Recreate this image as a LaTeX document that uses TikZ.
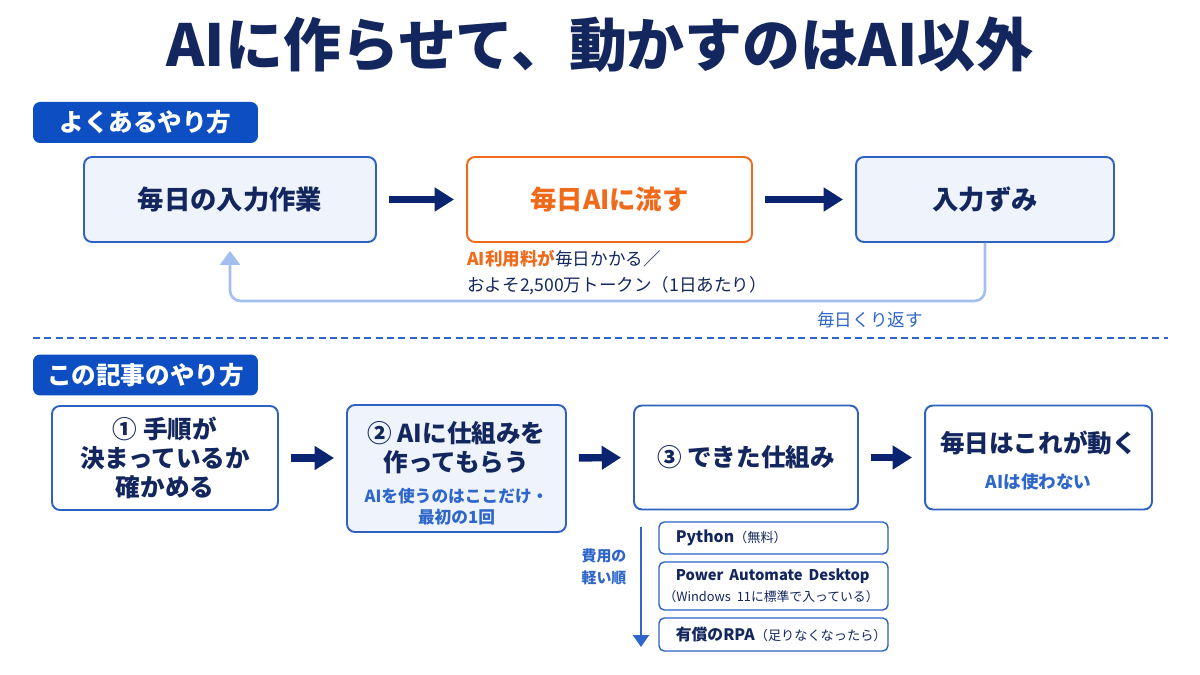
\documentclass[tikz,border=0pt]{standalone}
\usepackage{fontspec}
\setmainfont{Noto Sans CJK JP}
\usetikzlibrary{arrows.meta,positioning}
\definecolor{navy}{HTML}{13275E}
\definecolor{arrownavy}{HTML}{0B2472}
\definecolor{tagblue}{HTML}{0D4FC2}
\definecolor{boxline}{HTML}{2E62C2}
\definecolor{boxfill}{HTML}{EEF3FC}
\definecolor{orng}{HTML}{F06A1C}
\definecolor{loopblue}{HTML}{A3BFEE}
\definecolor{midblue}{HTML}{2F66CA}

\begin{document}
\begin{tikzpicture}[x=0.02cm,y=-0.02cm,
    flow box/.style={draw=boxline,line width=1.1pt,rounded corners=4.5pt,fill=boxfill,
      text=navy,font=\fontsize{15}{18}\selectfont\bfseries,minimum height=1.7cm},
    step box/.style={draw=boxline,line width=1.1pt,rounded corners=4.5pt,fill=white,
      minimum width=4.5cm,minimum height=2.08cm},
    main text/.style={text=navy,align=center,font=\fontsize{14}{16.5}\selectfont\bfseries},
    note text/.style={text=midblue,align=center,font=\fontsize{9.5}{12}\selectfont\bfseries},
    tag node/.style={fill=tagblue,rounded corners=4pt,text=white,minimum width=4.5cm,
      minimum height=0.82cm,font=\fontsize{14}{16}\selectfont\bfseries},
    tool box/.style={draw=boxline,line width=0.8pt,rounded corners=3pt,fill=white,text=navy,
      text width=4.4cm,inner xsep=0.09cm,align=left},
    big arrow/.style={-{Triangle[length=11pt,width=13pt]},draw=arrownavy,line width=4.2pt,
      shorten >=0.24cm,shorten <=0.24cm}]

  \fill[white] (0,0) rectangle (1200,675);

  % title
  \node[text=navy,font=\fontsize{33}{36}\selectfont\bfseries] (title) at (600,45)
    {AIに作らせて、動かすのはAI以外};

  % よくあるやり方
  \node[tag node] (tag1) at (145.5,122.5) {よくあるやり方};
  \node[flow box,minimum width=5.84cm] (in) at (230,199.5) {毎日の入力作業};
  \node[flow box,minimum width=5.7cm,fill=white,draw=orng,text=orng] (ai) at (609.5,199.5) {毎日AIに流す};
  \node[flow box,minimum width=5.16cm] (done) at (985,199.5) {入力ずみ};

  \node[anchor=north west,align=left,text=navy,inner sep=0pt,
        font=\fontsize{10}{14.5}\selectfont] (cost) at (467,250)
    {{\color{orng}\bfseries AI利用料が}毎日かかる／\\およそ2,500万トークン（1日あたり）};

  \draw[big arrow] (in) -- (ai);
  \draw[big arrow] (ai) -- (done);

  \draw[loopblue,line width=1.5pt,rounded corners=6pt,
        -{Triangle[length=0.28cm,width=0.4cm]},shorten >=0.16cm]
    (done.south) -- (done.south |- 0,301) -- (in.south |- 0,301) -- (in.south);
  \node[text=midblue,font=\fontsize{10}{12}\selectfont] (again) at (870,320) {毎日くり返す};

  \draw[midblue,line width=1pt,dash pattern=on 4pt off 2.5pt] (33,338) -- (1168,338);

  % この記事のやり方
  \node[tag node] (tag2) at (145.5,375) {この記事のやり方};
  \node[step box,minimum width=4.52cm] (s1) at (165,458) {};
  \node[main text] (s1t) at (s1) {① 手順が\\決まっているか\\確かめる};
  \node[step box,fill=boxfill,minimum width=4.38cm,minimum height=2.54cm] (s2) at (456.5,468.5) {};
  \node[main text] (s2t) at (456.5,448) {② AIに仕組みを\\作ってもらう};
  \node[note text] (s2n) at (456.5,507) {AIを使うのはここだけ・\\最初の1回};
  \node[step box,minimum width=4.48cm] (s3) at (746,457.5) {};
  \node[main text] (s3t) at (s3) {③ できた仕組み};
  \node[step box,minimum width=4.54cm] (s4) at (1038.5,457.5) {};
  \node[main text] (s4t) at (1038.5,443) {毎日はこれが動く};
  \node[note text,font=\fontsize{10}{13}\selectfont\bfseries] (s4n) at (1038.5,482) {AIは使わない};

  \draw[big arrow] (s1.east) -- (s1.east -| s2.west);
  \draw[big arrow] (s1.east -| s2.east) -- (s3.west);
  \draw[big arrow] (s3) -- (s4);

  % 費用の軽い順
  \coordinate (cost top) at (641,527);
  \coordinate (cost end) at (641,647);
  \draw[midblue,line width=1.3pt,-{Triangle[length=0.24cm,width=0.32cm]}] (cost top) -- (cost end);
  \node[text=midblue,align=center,font=\fontsize{8.5}{12.5}\selectfont\bfseries] (order) at (604,567)
    {費用の\\軽い順};

  \node[tool box,minimum height=0.64cm] (py) at (773.5,538)
    {\mbox{\hspace*{7pt}{\fontsize{9}{11}\selectfont\bfseries Python}{\fontsize{7.5}{9}\selectfont（無料）}}};
  \node[tool box,minimum height=0.96cm] (pad) at (773.5,586)
    {\fontsize{8.4}{10.5}\selectfont\mbox{\hspace*{7pt}\bfseries Power Automate Desktop}\\
     \mbox{\fontsize{7.3}{9}\selectfont（Windows 11に標準で入っている）}};
  \node[tool box,minimum height=0.66cm] (rpa) at (773.5,634.5)
    {\mbox{\hspace*{7pt}{\fontsize{9}{11}\selectfont\bfseries 有償のRPA}{\fontsize{7.5}{9}\selectfont（足りなくなったら）}}};
\end{tikzpicture}
\end{document}
